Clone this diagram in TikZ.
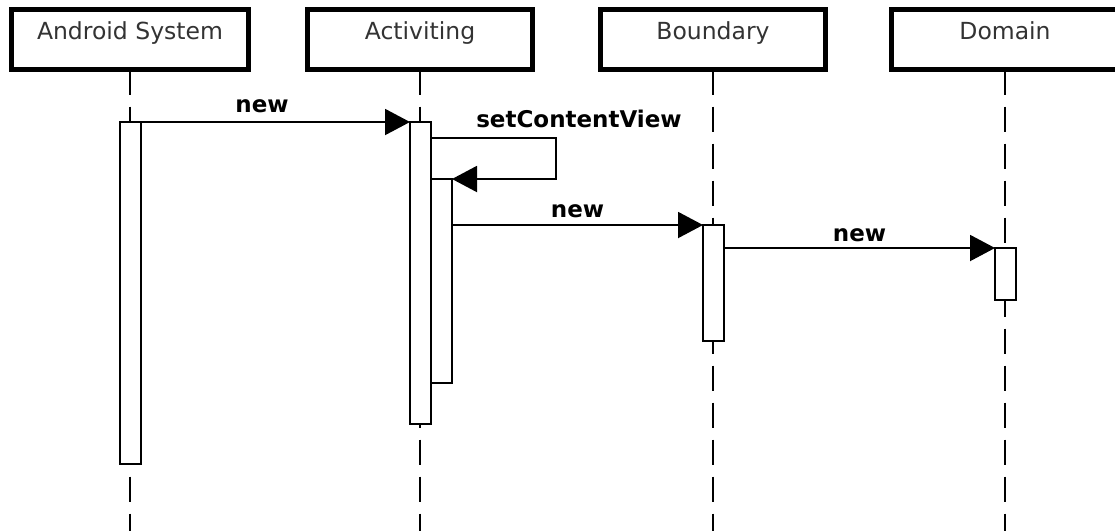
\documentclass[tikz,border=0pt]{standalone}
\usepackage{fontspec}
\setmainfont{DejaVu Sans}
\usetikzlibrary{arrows.meta, positioning}

\tikzset{
	actor/.style={draw, line width=5pt, fill=white, minimum width=225pt, inner sep=0pt, outer sep=0pt,
		text height=30pt, text depth=30pt, anchor=north, text=black!80,
		font=\fontsize{23.5}{28}\selectfont},
	lifeline/.style={line width=2pt, dash pattern=on 25pt off 12pt},
	bar/.style={draw, line width=1.6pt, fill=white, minimum width=21pt, inner sep=0pt, outer sep=0pt, anchor=north west},
	msg/.style={line width=2pt, -{Triangle[length=25pt, width=26pt]}},
	msglabel/.style={font=\bfseries\fontsize{23}{28}\selectfont, inner sep=0pt, anchor=base}
}

\begin{document}
\begin{tikzpicture}[x=1pt, y=-1pt]
		\useasboundingbox (0,0) rectangle (1115,531);
		\coordinate (floor) at (0,531);
		
		% --- 1. THE PARTICIPANTS ---
		\node[actor, minimum width=237pt] (android) at (130,9.5) {Android System};
		\node[actor] (activity) at (420,9.5) {Activiting};
		\node[actor] (boundary) at (713,9.5) {Boundary};
		\node[actor, minimum width=227pt] (domain) at (1005,9.5) {Domain}; % runs off the right edge
		
		% Lifelines down to the bottom edge
		\foreach \p in {android, activity, boundary, domain}
			\draw[lifeline] (\p.south) -- (\p.south |- floor);
		
		% --- 2. THE ACTIVATION BARS ---
		\node[bar, minimum height=342pt] (andBar) at (120,122) {};
		\node[bar, minimum height=302pt] (actMain) at (410,122) {};
		\node[bar, minimum height=204pt] (actSub) at (431,179) {}; % nested call
		\node[bar, minimum height=116pt] (bndBar) at (703,225) {};
		\node[bar, minimum height=52pt] (domBar) at (995,248) {};
		
		% --- 3. THE MESSAGES ---
		\draw[msg] (andBar.north east) -- (actMain.north west)
			node[msglabel, pos=0.45, yshift=10pt] {new};
		
		% self call: out to the right and back into the nested bar
		\draw[msg] ([yshift=-16pt]actMain.north east) -- ++(125,0) |- (actSub.north east);
		\node[msglabel] (selfLabel) at (579,127) {setContentView};
		
		\draw[msg] (actSub.east |- bndBar.north) -- (bndBar.north west)
			node[msglabel, midway, yshift=8pt] {new};
		
		\draw[msg] (bndBar.east |- domBar.north) -- (domBar.north west)
			node[msglabel, midway, yshift=7pt] {new};
		
\end{tikzpicture}
\end{document}
